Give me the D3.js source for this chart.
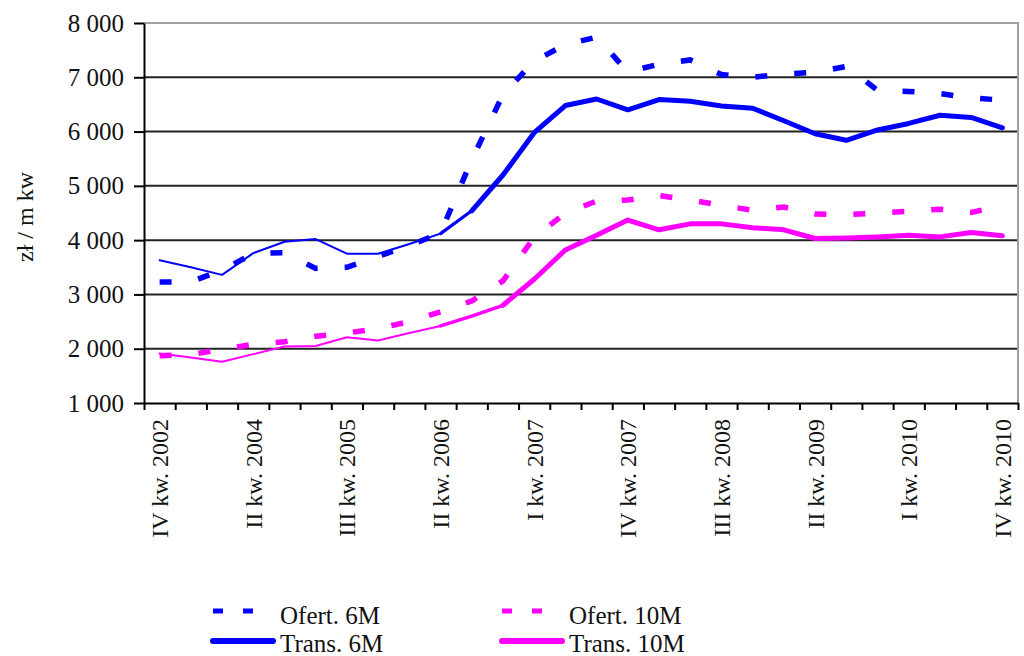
<!DOCTYPE html>
<html>
<head>
<meta charset="utf-8">
<script src="https://cdn.jsdelivr.net/npm/d3@7"></script>
<style>
  body { margin: 0; background: #fff; }
  svg text { font-family: "Liberation Serif", "Times New Roman", serif; fill: #111; }
  .axis path, .axis line { stroke: #000; stroke-width: 2; }
</style>
</head>
<body>
<div id="chart"></div>
<script>
// Quarters on the category axis (only every third one is labelled)
const categories = [
  "IV kw. 2002", "II kw. 2003", "IV kw. 2003", "II kw. 2004", "IV kw. 2004", "I kw. 2005",
  "III kw. 2005", "IV kw. 2005", "I kw. 2006", "II kw. 2006", "III kw. 2006", "IV kw. 2006",
  "I kw. 2007", "II kw. 2007", "III kw. 2007", "IV kw. 2007", "I kw. 2008", "II kw. 2008",
  "III kw. 2008", "IV kw. 2008", "I kw. 2009", "II kw. 2009", "III kw. 2009", "IV kw. 2009",
  "I kw. 2010", "II kw. 2010", "III kw. 2010", "IV kw. 2010"
];

// Prices, zł / m kw
const ofert6M = [3230, 3230, 3450, 3750, 3770, 3480, 3500, 3700, 3900, 4130, 5480, 6680, 7300, 7600,
                 7740, 7100, 7240, 7320, 7050, 7000, 7060, 7090, 7200, 6760, 6740, 6700, 6620, 6580];
const trans6M = [3630, 3500, 3360, 3760, 3970, 4020, 3750, 3750, 3930, 4120, 4540, 5200, 5980, 6480,
                 6600, 6400, 6590, 6560, 6470, 6430, 6200, 5960, 5840, 6030, 6150, 6300, 6260, 6070];
const ofert10M = [1870, 1890, 1990, 2080, 2130, 2230, 2290, 2370, 2500, 2680, 2880, 3250, 4050, 4500,
                  4720, 4740, 4820, 4740, 4640, 4550, 4610, 4480, 4470, 4500, 4530, 4570, 4510, 4640];
const trans10M = [1910, 1840, 1760, 1900, 2040, 2050, 2210, 2150, 2290, 2420, 2600, 2800, 3280, 3820,
                  4090, 4370, 4190, 4300, 4300, 4230, 4190, 4030, 4040, 4060, 4090, 4060, 4140, 4080];

const yTicks = [1000, 2000, 3000, 4000, 5000, 6000, 7000, 8000];
const yTitle = "zł / m kw";

const blue = "#0000ff";
const pink = "#ff00ff";

// series setup; the transaction lines get thicker from a given point on
const series = [
  {name: "Ofert. 6M", values: ofert6M, color: blue, dashed: true},
  {name: "Ofert. 10M", values: ofert10M, color: pink, dashed: true},
  {name: "Trans. 6M", values: trans6M, color: blue, dashed: false, steps: [[0, 9, 2], [9, 10, 3.2], [10, 27, 5]]},
  {name: "Trans. 10M", values: trans10M, color: pink, dashed: false, steps: [[0, 9, 2], [9, 11, 3.4], [11, 27, 5]]}
];

const width = 1024, height = 656;
const plotLeft = 144, plotRight = 1018, plotTop = 23, plotBottom = 403;

const svg = d3.select("#chart").append("svg")
  .attr("width", width)
  .attr("height", height);

const x = d3.scaleBand().domain(categories).range([plotLeft, plotRight]);
const xIdx = d3.scaleLinear().domain([0, categories.length]).range([plotLeft, plotRight]);
const y = d3.scaleLinear().domain([1000, 8000]).range([plotBottom, plotTop]);
const cx = c => x(c) + x.bandwidth() / 2;

const plFormat = d3.formatLocale({decimal: ",", thousands: " ", grouping: [3], currency: ["", ""]}).format(",");

// grid lines
svg.append("g")
  .selectAll("line")
  .data(yTicks.filter(d => d > 1000 && d < 8000))
  .join("line")
  .attr("x1", plotLeft).attr("x2", plotRight)
  .attr("y1", d => y(d)).attr("y2", d => y(d))
  .attr("stroke", "#222")
  .attr("stroke-width", 2);

// plot border top/right
svg.append("path")
  .attr("d", `M${plotLeft},${y(8000)}H${plotRight}V${plotBottom}`)
  .attr("fill", "none")
  .attr("stroke", "#a0a0a0")
  .attr("stroke-width", 2);

// y axis
const yAxis = svg.append("g")
  .attr("class", "axis")
  .attr("transform", `translate(${plotLeft},0)`)
  .call(d3.axisLeft(y).tickValues(yTicks).tickSize(10).tickSizeOuter(0).tickPadding(10).tickFormat(plFormat));
yAxis.selectAll("text").style("font-size", "25px").attr("fill", "#111");

// x axis, ticks between categories
svg.append("g")
  .attr("class", "axis")
  .attr("transform", `translate(0,${plotBottom})`)
  .call(d3.axisBottom(xIdx).tickValues(d3.range(0, categories.length + 1)).tickSize(7).tickSizeOuter(0).tickFormat(""));

// x labels, every third quarter
svg.append("g")
  .selectAll("text")
  .data(categories.filter((d, i) => i % 3 === 0))
  .join("text")
  .attr("transform", d => `translate(${cx(d)},${plotBottom + 16}) rotate(-90)`)
  .attr("dy", "0.35em")
  .attr("text-anchor", "end")
  .style("font-size", "24px")
  .text(d => d);

// y title
svg.append("text")
  .attr("transform", `translate(25,${(plotTop + plotBottom) / 2 + 4}) rotate(-90)`)
  .attr("dy", "0.35em")
  .attr("text-anchor", "middle")
  .style("font-size", "24px")
  .text(yTitle);

const line = d3.line()
  .x(d => cx(d.cat))
  .y(d => y(d.value));

const plot = svg.append("g");

series.forEach(s => {
  const pts = s.values.map((v, i) => ({cat: categories[i], value: v}));
  if (s.dashed) {
    plot.append("path")
      .datum(pts)
      .attr("d", line)
      .attr("fill", "none")
      .attr("stroke", s.color)
      .attr("stroke-width", 5.5)
      .attr("stroke-dasharray", "12,27");
  } else {
    s.steps.forEach(([a, b, w]) => {
      plot.append("path")
        .datum(pts.slice(a, b + 1))
        .attr("d", line)
        .attr("fill", "none")
        .attr("stroke", s.color)
        .attr("stroke-width", w)
        .attr("stroke-linejoin", "round")
        .attr("stroke-linecap", "round");
    });
  }
});

// legend
const legendPos = [
  {x: 213, y: 611}, {x: 502, y: 611},
  {x: 213, y: 641}, {x: 502, y: 641}
];
const legend = svg.append("g");
series.forEach((s, i) => {
  const p = legendPos[i];
  const g = legend.append("g").attr("transform", `translate(${p.x},${p.y})`);
  g.append("line")
    .attr("x1", 0).attr("x2", 60)
    .attr("stroke", s.color)
    .attr("stroke-width", s.dashed ? 5 : 6)
    .attr("stroke-linecap", s.dashed ? "butt" : "round")
    .attr("stroke-dasharray", s.dashed ? "10,20" : null);
  g.append("text")
    .attr("x", 67)
    .attr("y", s.dashed ? 13 : 11)
    .style("font-size", "25px")
    .text(s.name);
});
</script>
</body>
</html>
